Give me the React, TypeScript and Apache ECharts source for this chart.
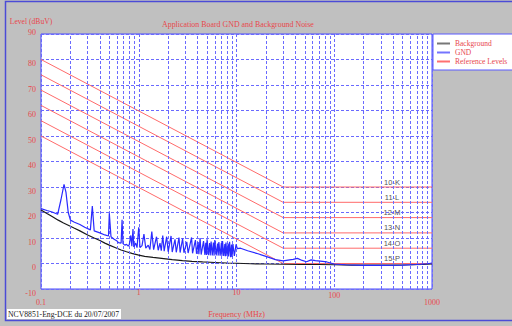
import React, { useEffect, useRef } from 'react';
import * as echarts from 'echarts';

// Reference level lines: value at 0.1 MHz, flat value from 30 MHz up to 1000 MHz
const refNames = ['10-K', '11-L', '12-M', '13-N', '14-O', '15-P'];
const refStart = [80, 74, 68, 62, 56, 50];
const refFlat = [30, 24, 18, 12, 6, 0];
const refStartFreq = 0.1;
const refBreakFreq = 30;
const refLabelFreq = 390;
const refEndFreq = 1000;

// Minor vertical grid positions (MHz)
const minorFreqs = [
  0.2, 0.3, 0.4, 0.5, 0.6, 0.7, 0.8, 0.9,
  2, 3, 4, 5, 6, 7, 8, 9,
  20, 30, 40, 50, 60, 70, 80, 90,
  200, 300, 400, 500, 600, 700, 800, 900,
];

// Background noise [MHz, dBuV]
const background: [number, number][] = [
  [0.1, 21], [0.115, 19.6], [0.13, 18.4], [0.15, 17], [0.17, 15.9], [0.19, 15], [0.22, 13.8],
  [0.25, 12.8], [0.3, 11.2], [0.35, 10], [0.4, 9], [0.45, 8], [0.5, 7.2], [0.58, 6.2],
  [0.66, 5.3], [0.75, 4.6], [0.85, 4], [1, 3.3], [1.15, 2.8], [1.4, 2.4], [1.8, 1.9],
  [2.2, 1.5], [2.8, 1.1], [3.5, 0.8], [4.5, 0.6], [6, 0.4], [8, 0.2], [10, 0.1],
  [14, -0.1], [20, -0.2], [30, -0.3], [45, -0.4], [70, -0.4], [100, -0.5], [150, -0.6],
  [250, -0.6], [400, -0.6], [600, -0.5], [800, -0.4], [1000, -0.2],
];

// GND measurement [MHz, dBuV]
const gnd: [number, number][] = [
  [0.1, 21.5], [0.115, 20.8], [0.13, 20.2], [0.148, 19.3], [0.16, 25], [0.172, 31], [0.18, 28],
  [0.19, 20], [0.2, 17], [0.22, 16.2], [0.25, 15.3], [0.28, 14.2], [0.32, 13.2], [0.335, 22.5],
  [0.35, 12.8], [0.4, 12], [0.45, 11.2], [0.49, 10.8], [0.5, 19.7], [0.52, 10.5], [0.56, 9.5],
  [0.6, 8.8], [0.62, 8.2], [0.66, 8.0], [0.675, 17.1], [0.69, 7.8], [0.72, 7.2], [0.75, 7.5],
  [0.78, 6.8], [0.8, 7.4], [0.83, 11], [0.85, 6.8], [0.873, 13.5], [0.89, 6.5], [0.93, 8],
  [0.96, 6.2], [1.0, 14.2], [1.03, 6.2], [1.08, 7], [1.13, 11.5], [1.18, 6], [1.25, 7.2],
  [1.3, 5.5], [1.36, 12.5], [1.42, 5.4], [1.52, 10.5], [1.58, 5.2], [1.65, 8], [1.7, 5],
  [1.76, 11], [1.82, 4.8], [1.93, 10.5], [2.0, 4.6], [2.14, 10.8], [2.2, 4.5], [2.35, 9.5],
  [2.42, 4.4], [2.58, 10.2], [2.65, 4.3], [2.81, 9.8], [2.9, 4.2], [3.1, 8.5], [3.2, 4.1],
  [3.47, 10.2], [3.55, 4], [3.8, 9.2], [3.9, 3.8], [4.05, 8.4], [4.12, 3.6], [4.24, 10],
  [4.35, 3.5], [4.6, 8.8], [4.75, 3.4], [4.85, 8.1], [4.92, 3.3], [5.0, 9.5], [5.15, 3.3],
  [5.3, 8], [5.38, 3.2], [5.5, 8.6], [5.65, 3.2], [5.8, 8.2], [5.9, 3.1], [6.0, 9.2],
  [6.2, 3.2], [6.4, 7.8], [6.5, 3.1], [6.6, 8.4], [6.8, 3.1], [7.0, 8.0], [7.1, 3.0],
  [7.2, 8.8], [7.4, 3], [7.6, 7.6], [7.7, 2.9], [7.8, 8.2], [8.0, 3], [8.2, 7.8], [8.3, 2.8],
  [8.5, 8.5], [8.7, 2.5], [8.9, 7.4], [9.0, 2.6], [9.2, 7.6], [9.5, 3], [9.9, 7.5],
  [10.2, 5.8], [11, 6], [13, 5], [16, 4], [20, 2.8], [25, 1.5], [30, 1.0], [35, 1.4],
  [38, 1.6], [42, 2.0], [47, 1.2], [52, 0.7], [58, 1.4], [64, 1.1], [72, 0.9], [84, 0.6],
  [100, -0.2], [130, -0.5], [200, -0.7], [300, -0.7], [500, -0.6], [700, -0.4], [900, -0.1],
  [1000, 0.2],
];

const RED = '#e8474c';
const BLUE_GRID = '#6a6aff';
const SERIF = '"Liberation Serif", "Times New Roman", serif';

export default function App() {
  const ref = useRef<HTMLDivElement>(null);

  useEffect(() => {
    if (!ref.current) return;
    const chart = echarts.init(ref.current, undefined, { renderer: 'svg' });

    const refSeries = refNames.map((nm, i) => ({
      name: 'Reference Levels',
      type: 'line',
      symbol: 'circle',
      symbolSize: 0,
      showSymbol: true,
      silent: true,
      z: 3,
      lineStyle: { color: '#ff6a6a', width: 1 },
      itemStyle: { color: '#ff6a6a' },
      data: [
        [refStartFreq, refStart[i]],
        [refBreakFreq, refFlat[i]],
        {
          value: [refLabelFreq, refFlat[i]],
          label: {
            show: true,
            position: 'top',
            distance: 1,
            formatter: nm,
            color: '#555',
            fontSize: 7.5,
            fontFamily: '"Liberation Sans", Arial, sans-serif',
          },
        },
        [refEndFreq, refFlat[i]],
      ],
    }));

    const xLabelStyle = (v: number) => {
      const k = Math.round(Math.log10(v));
      const txt = ['0.1', '1', '10', '100', '1000'][k + 1];
      if (k === -1 || k === 3) return `{lo|${txt}}`;
      if (k === 2) return `{mid|${txt}}`;
      return `{hi|${txt}}`;
    };

    const legendItem = (name: string, color: string) => ({
      name,
      itemStyle: { color, borderColor: color, borderWidth: 0, opacity: 1 },
    });

    const option: any = {
      animation: false,
      backgroundColor: '#c0c0c0',
      title: {
        text: 'Application Board GND and Background Noise',
        left: 162,
        top: 20,
        padding: 0,
        textStyle: { color: RED, fontSize: 7.9, fontWeight: 'normal', fontFamily: SERIF },
      },
      legend: {
        left: 433,
        top: 34,
        orient: 'vertical',
        icon: 'rect',
        itemWidth: 13,
        itemHeight: 2,
        itemGap: 0,
        padding: [5, 12, 4, 4],
        backgroundColor: '#ffffff',
        borderColor: '#5a5aff',
        borderWidth: 1,
        borderRadius: 0,
        textStyle: { color: RED, fontSize: 7.5, fontFamily: SERIF, lineHeight: 9 },
        data: [
          legendItem('Background', '#777777'),
          legendItem('GND', '#7474ff'),
          legendItem('Reference Levels', '#ff7070'),
        ],
      },
      grid: {
        left: 41,
        top: 34,
        width: 391,
        height: 255,
        show: true,
        backgroundColor: '#ffffff',
        borderColor: '#4a4aff',
        borderWidth: 1,
      },
      xAxis: {
        type: 'log',
        logBase: 10,
        min: 0.1,
        max: 1000,
        axisLine: { show: false },
        axisTick: { show: false },
        splitLine: { show: true, lineStyle: { color: BLUE_GRID, type: [3, 2], width: 1 } },
        axisLabel: {
          color: RED,
          fontSize: 8,
          fontFamily: SERIF,
          margin: -1,
          formatter: xLabelStyle,
          rich: {
            hi: { color: RED, fontSize: 8, fontFamily: SERIF, padding: [0, 0, 0, 0] },
            mid: { color: RED, fontSize: 8, fontFamily: SERIF, padding: [3, 0, 0, 0] },
            lo: { color: RED, fontSize: 8, fontFamily: SERIF, padding: [10, 0, 0, 0] },
          },
        },
        name: 'Frequency (MHz)',
        nameLocation: 'middle',
        nameGap: 17,
        nameTextStyle: { color: RED, fontSize: 7.9, fontFamily: SERIF },
      },
      yAxis: {
        type: 'value',
        min: -10,
        max: 90,
        interval: 10,
        axisLine: { show: false },
        axisTick: { show: false },
        splitLine: { show: true, lineStyle: { color: BLUE_GRID, type: [3, 2], width: 1 } },
        axisLabel: {
          color: RED,
          fontSize: 8,
          fontFamily: SERIF,
          margin: 5,
          formatter: (v: number) => (v === 90 ? `{t|${v}}` : `{d|${v}}`),
          rich: {
            t: { color: RED, fontSize: 8, fontFamily: SERIF, padding: [0, 0, 3, 0] },
            d: { color: RED, fontSize: 8, fontFamily: SERIF, padding: [8, 0, 0, 0] },
          },
        },
        name: 'Level (dBuV)',
        nameLocation: 'end',
        nameGap: 9,
        nameTextStyle: { color: RED, fontSize: 7.6, fontFamily: SERIF, padding: [0, 20, 0, 0] },
      },
      graphic: [
        {
          type: 'rect',
          silent: true,
          shape: { x: 5.5, y: 1.5, width: 620, height: 319 },
          style: { fill: 'none', stroke: '#4b4bd6', lineWidth: 1.5 },
          z: 100,
        },
        {
          type: 'rect',
          silent: true,
          shape: { x: 7, y: 309, width: 114, height: 10 },
          style: { fill: '#ffffff' },
          z: 100,
        },
        {
          type: 'text',
          silent: true,
          x: 8,
          y: 314,
          style: {
            text: 'NCV8851-Eng-DCE du 20/07/2007',
            fill: '#222',
            fontSize: 7.7,
            fontFamily: SERIF,
            verticalAlign: 'middle',
          },
          z: 101,
        },
      ],
      series: [
        {
          name: 'minorGrid',
          type: 'line',
          data: [],
          silent: true,
          z: 1,
          markLine: {
            silent: true,
            symbol: 'none',
            label: { show: false },
            lineStyle: { color: BLUE_GRID, type: [3, 2], width: 1 },
            data: minorFreqs.map((f) => ({ xAxis: f })),
          },
        },
        ...refSeries,
        {
          name: 'Background',
          type: 'line',
          symbol: 'none',
          z: 4,
          lineStyle: { color: '#1a1a1a', width: 1.2 },
          itemStyle: { color: '#1a1a1a' },
          data: background,
        },
        {
          name: 'GND',
          type: 'line',
          symbol: 'none',
          z: 5,
          lineStyle: { color: '#2a2aff', width: 1.2 },
          itemStyle: { color: '#2a2aff' },
          data: gnd,
        },
      ],
    };

    chart.setOption(option);
    return () => chart.dispose();
  }, []);

  return (
    <div
      ref={ref}
      style={{ position: 'fixed', left: 0, top: 0, width: 512, height: 326 }}
    />
  );
}
